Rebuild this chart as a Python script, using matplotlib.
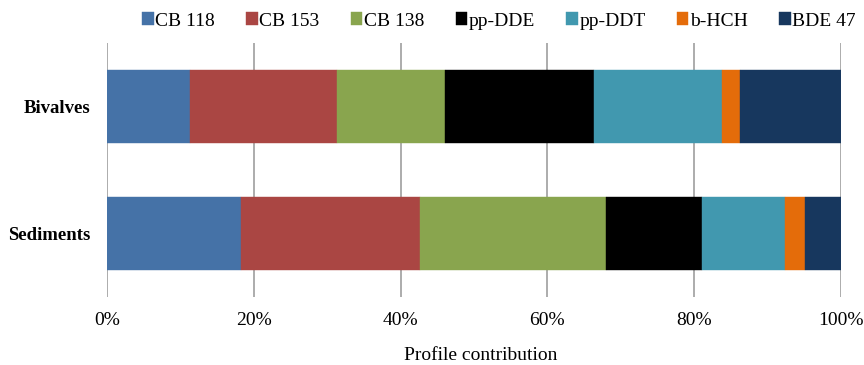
import matplotlib
matplotlib.use("Agg")
import matplotlib.pyplot as plt
import numpy as np

categories = ["Sediments", "Bivalves"]
series_names = ["CB 118", "CB 153", "CB 138", "pp-DDE", "pp-DDT", "b-HCH", "BDE 47"]
sediments = [18.2, 24.4, 25.4, 13.0, 11.4, 2.7, 4.9]
bivalves = [11.3, 20.0, 14.7, 20.3, 17.5, 2.5, 13.7]
colors = ["#4572A7", "#AA4643", "#89A54E", "#000000", "#4198AF", "#E46C0A", "#17375E"]
xticks = [0, 20, 40, 60, 80, 100]
xticklabels = ["0%", "20%", "40%", "60%", "80%", "100%"]

plt.rcParams['font.family'] = ['Liberation Serif', 'DejaVu Serif']

W, H = 864, 365
fig = plt.figure(figsize=(W / 100, H / 100), dpi=100)
ax = fig.add_axes([107 / W, 1 - 297 / H, (841 - 107) / W, (297 - 43) / H])

data = np.array([sediments, bivalves])
ypos = np.arange(len(categories))
left = np.zeros(len(categories))
for i, name in enumerate(series_names):
    ax.barh(ypos, data[:, i], left=left, height=0.58, color=colors[i],
            label=name, edgecolor=colors[i], linewidth=0.3, zorder=3)
    left += data[:, i]

ax.set_xlim(0, 100)
ax.set_ylim(-0.5, 1.5)
ax.set_xticks(xticks)
ax.set_xticklabels(xticklabels, fontsize=14)
ax.set_yticks(ypos)
ax.set_yticklabels(categories, fontsize=13.5, fontweight='bold')
ax.tick_params(axis='both', length=0)
ax.tick_params(axis='x', pad=11)
ax.tick_params(axis='y', pad=12)
for s in ax.spines.values():
    s.set_visible(False)
ax.grid(axis='x', color='#a6a6a6', linewidth=1.3, zorder=0)
ax.set_axisbelow(True)

fig.text(481 / W, 1 - 355 / H, "Profile contribution", ha='center', va='center', fontsize=14)

leg = fig.legend(loc='center', bbox_to_anchor=(499 / W, 1 - 21 / H), ncol=7,
                 frameon=False, fontsize=14, handlelength=0.6, handleheight=0.6,
                 handletextpad=0.08, columnspacing=1.6, borderaxespad=0, borderpad=0)

fig.savefig("out.png", dpi=100)
